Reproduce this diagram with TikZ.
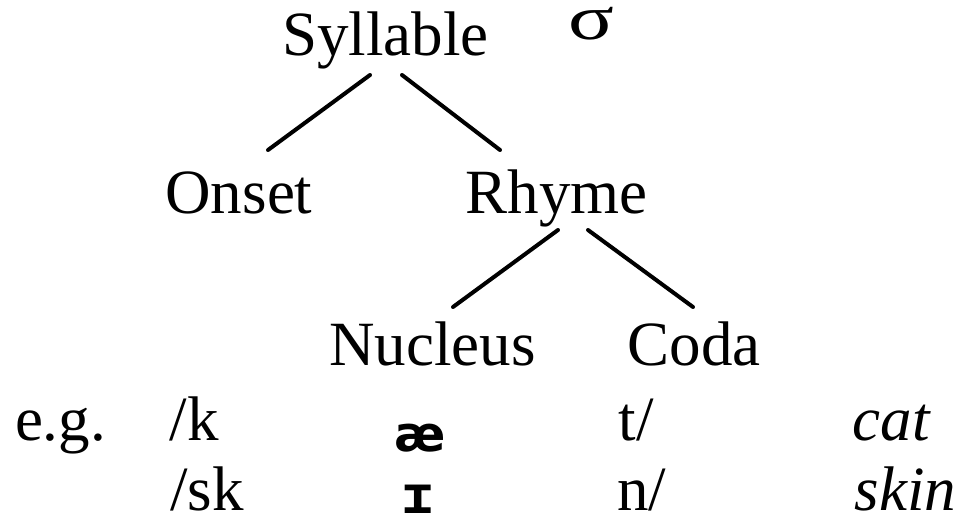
\documentclass[tikz,border=0pt]{standalone}
\usepackage{fontspec}
\setmainfont{Liberation Serif}
\newfontfamily\ipafont{DejaVu Sans}
\newfontfamily\ipamono{DejaVu Sans Mono}
\usetikzlibrary{calc}
\tikzset{
  lbl/.style={inner sep=0pt, anchor=base, font=\fontsize{31.5}{36}\selectfont},
  ipa/.style={inner sep=0pt, anchor=base, font=\fontsize{24.5}{28}\selectfont\ipafont\bfseries},
  ipam/.style={inner sep=0pt, anchor=base, font=\fontsize{26}{28}\selectfont\ipamono\bfseries},
  branch/.style={line width=2pt, line cap=round}
}
\begin{document}
\begin{tikzpicture}[x=0.5pt, y=-0.5pt]
\useasboundingbox (0,0) rectangle (957,520);
\node[lbl] (syl) at (385.5,55) {Syllable};
\node[lbl, xscale=1.35, transform shape] (sigma) at (591,39) {σ};
\node[lbl] (onset) at (239,213) {Onset};
\node[lbl] (rhyme) at (556.5,213) {Rhyme};
\node[lbl] (nuc) at (432.5,365) {Nucleus};
\node[lbl] (coda) at (694,365) {Coda};
\node[lbl] (eg) at (60.5,440) {e.g.};
\node[lbl] (k1) at (194,440) {/k};
\node[ipa] (ae) at (420,451) {æ};
\node[lbl] (t1) at (636,440) {t/};
\node[lbl] (cat) at (891,440) {\itshape cat};
\node[lbl] (sk) at (207,510) {/sk};
\node[ipam] (ih) at (418,513) {ɪ};
\node[lbl] (n1) at (641.5,510) {n/};
\node[lbl] (skin) at (905.5,510) {\itshape skin};
\draw[branch] ($(syl.base)+(-15.5,20)$) -- ($(onset.base)+(29,-63)$);
\draw[branch] ($(syl.base)+(16.5,20)$) -- ($(rhyme.base)+(-56.5,-63)$);
\draw[branch] ($(rhyme.base)+(1.5,17)$) -- ($(nuc.base)+(20.5,-58)$);
\draw[branch] ($(rhyme.base)+(31.5,17)$) -- ($(coda.base)+(-1,-58)$);
\end{tikzpicture}
\end{document}
